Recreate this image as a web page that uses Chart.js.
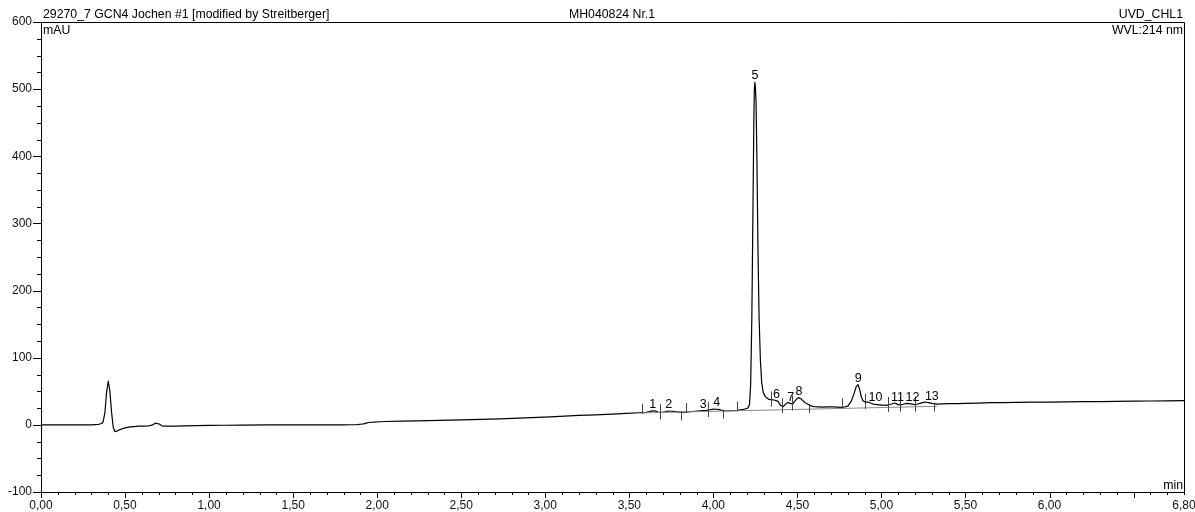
<!DOCTYPE html>
<html>
<head>
<meta charset="utf-8">
<script src="https://cdn.jsdelivr.net/npm/chart.js@4.4.0/dist/chart.umd.min.js"></script>
<style>
  html, body { margin: 0; padding: 0; background: #fff; }
  #wrap { width: 1195px; height: 512px; }
</style>
</head>
<body>
<div id="wrap"><canvas id="chart1"></canvas></div>
<script>
// Chromatogram trace (retention time in min, signal in mAU).
const traceTime = [
  0.00, 0.10, 0.20, 0.30, 0.34, 0.36, 0.37, 0.38, 0.39, 0.40, 0.41, 0.42, 0.43, 0.44, 0.45, 0.47,
  0.50, 0.53, 0.58, 0.64, 0.66, 0.68, 0.70, 0.72, 0.75, 0.85, 1.00, 1.20, 1.50, 1.80, 1.88, 1.92,
  1.95, 1.98, 2.05, 2.24, 2.50, 2.73, 3.03, 3.20, 3.40, 3.56, 3.60, 3.63, 3.65, 3.67, 3.70, 3.73,
  3.76, 3.81, 3.86, 3.92, 3.96, 4.00, 4.03, 4.06, 4.10, 4.14, 4.18, 4.205, 4.215, 4.222, 4.229, 4.236,
  4.241, 4.244, 4.247, 4.250, 4.254, 4.259, 4.265, 4.272, 4.280, 4.288, 4.297, 4.31, 4.33, 4.36, 4.385, 4.40,
  4.415, 4.43, 4.445, 4.46, 4.475, 4.49, 4.505, 4.52, 4.545, 4.575, 4.60, 4.65, 4.70, 4.77, 4.80, 4.82,
  4.835, 4.85, 4.86, 4.87, 4.88, 4.89, 4.905, 4.92, 4.95, 5.00, 5.03, 5.06, 5.08, 5.10, 5.12, 5.15,
  5.18, 5.20, 5.23, 5.26, 5.30, 5.33, 5.40, 5.50, 5.65, 5.80, 6.00, 6.20, 6.40, 6.60, 6.80
];
const traceMAU = [
  0, 0, 0, 0, 0.5, 2, 5, 18, 48, 65, 50, 18, -4, -10, -9.5, -7,
  -4.5, -3, -2, -1.5, -0.5, 2.5, 1.5, -1.5, -2, -1.5, -0.8, -0.3, 0, 0, 0.3, 1.5,
  3.5, 4.2, 5, 6, 7.5, 8.8, 12, 14, 16, 18, 18.5, 20.5, 21, 19, 18.5, 20.5,
  20, 18.5, 19.5, 21, 21.5, 23.5, 23, 21, 21, 21.5, 23, 25, 30, 60, 160, 330,
  455, 500, 510, 504, 480, 400, 270, 160, 95, 62, 48, 42, 38, 37, 35, 29,
  27, 31, 33.5, 31.5, 32, 37, 40.5, 39, 33, 29, 27, 26.5, 27, 26, 28, 35,
  45, 57, 60, 53, 42, 36, 33.5, 34, 31, 29.5, 29, 31, 32.5, 30, 30, 32,
  31, 30, 32, 34, 32, 31, 31.5, 32, 33, 33.5, 34, 34.5, 35, 35.5, 36
];

// Integration baseline drawn under the peak cluster
const baselineTime = [3.57, 5.33];
const baselineMAU = [17.8, 27.6];

// Peak numbers and their retention times
const peakNumbers = ['1', '2', '3', '4', '5', '6', '7', '8', '9', '10', '11', '12', '13'];
const peakTimes = [3.64, 3.735, 3.94, 4.02, 4.247, 4.375, 4.46, 4.51, 4.862, 4.965, 5.095, 5.185, 5.30];

// Peak start/end markers
const delimiterTimes = [3.575, 3.68, 3.81, 3.84, 3.97, 4.06, 4.14, 4.34, 4.41, 4.47, 4.57,
  4.765, 4.90, 5.04, 5.11, 5.20, 5.31];
const delimiterKinds = ['up', 'cross', 'down', 'up', 'cross', 'down', 'up', 'cross', 'cross', 'cross', 'down',
  'up', 'cross', 'cross', 'cross', 'cross', 'down'];

// Header texts
const sampleName = '29270_7 GCN4 Jochen #1 [modified by Streitberger]';
const sequenceName = 'MH040824 Nr.1';
const channelName = 'UVD_CHL1';
const wavelengthText = 'WVL:214 nm';
const yUnit = 'mAU';
const xUnit = 'min';

const FONT = '"Liberation Sans", Arial, sans-serif';

function signalAt(t) {
  for (let i = 1; i < traceTime.length; i++) {
    if (traceTime[i] >= t) {
      const f = (t - traceTime[i - 1]) / (traceTime[i] - traceTime[i - 1]);
      return traceMAU[i - 1] + f * (traceMAU[i] - traceMAU[i - 1]);
    }
  }
  return traceMAU[traceMAU.length - 1];
}

function localMax(t) {
  let m = signalAt(t);
  traceTime.forEach((x, i) => {
    if (Math.abs(x - t) <= 0.012 && traceMAU[i] > m) m = traceMAU[i];
  });
  return m;
}

function isXMajor(v) {
  return Math.round(v * 10) % 5 === 0;
}

const decorations = {
  id: 'decorations',
  afterDraw(chart) {
    const { ctx, chartArea: a, scales: { x, y } } = chart;
    ctx.save();

    // frame
    ctx.strokeStyle = '#000';
    ctx.lineWidth = 1;
    ctx.beginPath();
    ctx.moveTo(a.left + 0.5, a.bottom + 0.5);
    ctx.lineTo(a.left + 0.5, a.top + 0.5);
    ctx.lineTo(a.right + 0.5, a.top + 0.5);
    ctx.lineTo(a.right + 0.5, a.bottom + 0.5);
    ctx.lineTo(a.left + 0.5, a.bottom + 0.5);
    ctx.stroke();

    // axis ticks
    ctx.beginPath();
    for (let v = -100; v <= 600; v += 25) {
      const py = Math.round(y.getPixelForValue(v)) + 0.5;
      const len = v % 100 === 0 ? 8 : 4;
      ctx.moveTo(a.left, py);
      ctx.lineTo(a.left - len, py);
    }
    for (let k = 0; k <= 68; k++) {
      const px = Math.round(x.getPixelForValue(k / 10)) + 0.5;
      const len = isXMajor(k / 10) ? 6 : 3;
      ctx.moveTo(px, a.bottom);
      ctx.lineTo(px, a.bottom + len);
    }
    ctx.stroke();

    // peak delimiters
    ctx.strokeStyle = '#444';
    ctx.beginPath();
    delimiterTimes.forEach((t, i) => {
      const px = Math.round(x.getPixelForValue(t)) + 0.5;
      const py = y.getPixelForValue(signalAt(t));
      const kind = delimiterKinds[i];
      const top = kind === 'down' ? py - 1 : py - (kind === 'up' ? 9 : 8);
      const bottom = kind === 'up' ? py + 1 : py + (kind === 'down' ? 8 : 7);
      ctx.moveTo(px, top);
      ctx.lineTo(px, bottom);
    });
    ctx.stroke();

    // peak numbers
    ctx.fillStyle = '#000';
    ctx.font = '12.5px ' + FONT;
    ctx.textAlign = 'center';
    ctx.textBaseline = 'alphabetic';
    peakNumbers.forEach((n, i) => {
      const t = peakTimes[i];
      ctx.fillText(n, x.getPixelForValue(t), y.getPixelForValue(localMax(t)) - 3);
    });

    // header and unit texts
    ctx.font = '12.3px ' + FONT;
    ctx.textAlign = 'left';
    ctx.fillText(sampleName, a.left + 2, a.top - 4);
    ctx.fillText(yUnit, a.left + 2, a.top + 12);
    ctx.textAlign = 'center';
    ctx.fillText(sequenceName, 612, a.top - 4);
    ctx.textAlign = 'right';
    ctx.fillText(channelName, a.right - 1, a.top - 4);
    ctx.fillText(wavelengthText, a.right - 1, a.top + 12);
    ctx.fillText(xUnit, a.right - 1, a.bottom - 3);

    ctx.restore();
  }
};

const chart1 = new Chart(document.getElementById('chart1').getContext('2d'), {
  type: 'line',
  data: {
    datasets: [
      {
        label: 'Integration baseline',
        data: baselineTime.map((t, i) => ({ x: t, y: baselineMAU[i] })),
        borderColor: '#8a8a8a',
        borderWidth: 1,
        pointRadius: 0,
      },
      {
        label: 'UVD_CHL1',
        data: traceTime.map((t, i) => ({ x: t, y: traceMAU[i] })),
        borderColor: '#000',
        borderWidth: 1.2,
        borderJoinStyle: 'round',
        pointRadius: 0,
        // a tiny tension keeps Chart.js off its per-pixel fast path, which breaks up the narrow peak
        tension: 0.001,
      },
    ],
  },
  options: {
    responsive: true,
    maintainAspectRatio: false,
    animation: false,
    layout: { padding: { top: 22, right: 11, left: 0, bottom: 0 } },
    plugins: {
      legend: { display: false },
      tooltip: { enabled: false },
    },
    scales: {
      x: {
        type: 'linear',
        min: 0,
        max: 6.8,
        grid: { display: false, drawTicks: false },
        border: { display: false },
        ticks: {
          stepSize: 0.1,
          autoSkip: false,
          maxRotation: 0,
          padding: 6,
          color: '#111',
          font: { family: FONT, size: 12 },
          callback: (v) => {
            const k = Math.round(v * 10);
            if (k === 68 || (k % 5 === 0 && k !== 65)) return (k / 10).toFixed(2).replace('.', ',');
            return '';
          },
        },
        afterFit: (scale) => {
          scale.height = 20;
          scale.paddingLeft = 0;
          scale.paddingRight = 0;
        },
      },
      y: {
        min: -100,
        max: 600,
        grid: { display: false, drawTicks: false },
        border: { display: false },
        ticks: {
          stepSize: 25,
          autoSkip: false,
          padding: 9,
          color: '#111',
          font: { family: FONT, size: 12 },
          callback: (v) => (v % 100 === 0 ? String(v) : ''),
        },
        afterFit: (scale) => { scale.width = 41; },
      },
    },
  },
  plugins: [decorations],
});
</script>
</body>
</html>
